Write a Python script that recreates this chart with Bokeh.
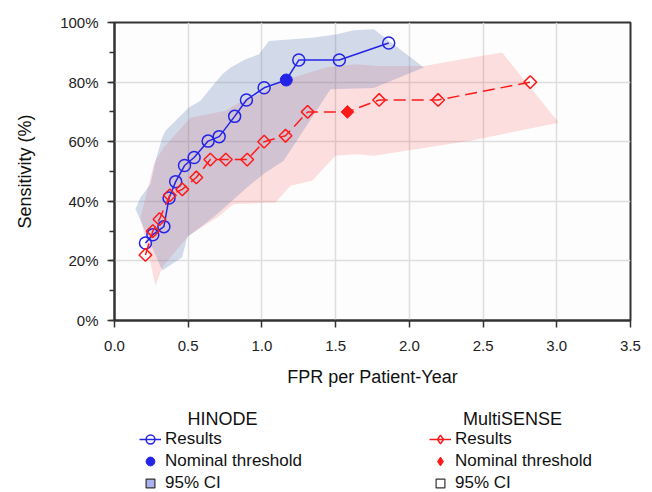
import numpy as np
from bokeh.plotting import figure
from bokeh.layouts import column
from bokeh.models import (Legend, LegendItem, Label, FixedTicker, PrintfTickFormatter,
                          Range1d, ColumnDataSource)
from bokeh.embed import file_html
from bokeh.resources import INLINE

# ---------------- data ----------------
hinode_fpr = [0.21, 0.26, 0.335, 0.37, 0.415, 0.475, 0.54, 0.635, 0.71, 0.815, 0.895, 1.015, 1.165, 1.25, 1.525, 1.86]
hinode_sens = [26.0, 28.8, 31.5, 41.1, 46.6, 52.0, 54.7, 60.2, 61.7, 68.5, 74.0, 78.1, 80.7, 87.4, 87.4, 93.1]
hinode_nominal_index = 12

multisense_fpr = [0.21, 0.26, 0.305, 0.375, 0.46, 0.555, 0.65, 0.755, 0.90, 1.015, 1.16, 1.31, 1.58, 1.795, 2.195, 2.82]
multisense_sens = [22, 30, 34, 42, 44, 48, 54, 54, 54, 60, 62, 70, 70, 74, 74, 80]
multisense_nominal_index = 12

# 95% CI regions (outline of the band, x = FPR, y = sensitivity %)
hinode_ci_x = [0.142, 0.176, 0.244, 0.278, 0.324, 0.346, 0.391, 0.448, 0.504, 0.583, 0.674, 0.731, 0.787,
               0.889, 0.979, 1.047, 1.206, 1.341, 1.499, 1.624, 1.759, 2.098,
               1.759, 1.465, 1.147, 1.011, 0.900, 0.697, 0.583, 0.493, 0.459, 0.324]
hinode_ci_y = [37.4, 41.3, 45.8, 53.6, 61.4, 63.7, 65.9, 68.7, 71.5, 73.7, 79.3, 82.6, 84.9,
               87.7, 89.3, 93.8, 94.4, 94.9, 96.0, 97.4, 97.7, 84.9,
               78.0, 77.6, 53.6, 49.2, 44.7, 35.7, 31.3, 27.9, 21.2, 16.8]

multisense_ci_x = [0.278, 0.176, 0.267, 0.278, 0.334, 0.516, 0.753, 0.866, 0.979, 1.138, 1.431, 1.635,
                   1.805, 2.098, 2.483, 2.630, 3.014,
                   2.415, 1.759, 1.635, 1.499, 1.341, 1.194, 1.092, 0.809, 0.697, 0.504, 0.324]
multisense_ci_y = [11.7, 34.6, 52.5, 53.6, 58.1, 68.1, 70.4, 73.7, 75.9, 80.4, 84.9, 86.0,
                   85.4, 85.4, 88.8, 89.9, 66.4,
                   60.3, 55.3, 55.8, 55.3, 46.9, 45.2, 39.6, 39.1, 34.6, 28.5, 17.9]

x_ticks = [0.0, 0.5, 1.0, 1.5, 2.0, 2.5, 3.0, 3.5]
y_ticks = [0, 20, 40, 60, 80, 100]

series_names = ["HINODE", "MultiSENSE"]
legend_labels = ["Results", "Nominal threshold", "95% CI"]

BLUE = "#2424e8"
RED = "#ff1a1a"
FONT = "Liberation Sans"

p = figure(width=652, height=400, output_backend="svg", toolbar_location=None,
           x_range=Range1d(0, 3.5), y_range=Range1d(0, 100),
           min_border_left=114, min_border_right=22, min_border_top=22, min_border_bottom=80)

p.background_fill_color = "#fdfdfd"
p.outline_line_color = "#333333"
p.outline_line_width = 2

# CI bands
p.patch(multisense_ci_x, multisense_ci_y, fill_color="#ff0000", fill_alpha=0.12, line_color=None)
p.patch(hinode_ci_x, hinode_ci_y, fill_color="#5373b3", fill_alpha=0.25, line_color=None)

# HINODE
h_open = ColumnDataSource(dict(
    x=[v for i, v in enumerate(hinode_fpr) if i != hinode_nominal_index],
    y=[v for i, v in enumerate(hinode_sens) if i != hinode_nominal_index]))
p.line(hinode_fpr, hinode_sens, line_color=BLUE, line_width=1.5)
p.scatter("x", "y", source=h_open, marker="circle", size=12, fill_color=None,
          line_color=BLUE, line_width=1.5)
p.scatter([hinode_fpr[hinode_nominal_index]], [hinode_sens[hinode_nominal_index]],
          marker="circle", size=12, fill_color=BLUE, line_color=BLUE)

# MultiSENSE
m_open = ColumnDataSource(dict(
    x=[v for i, v in enumerate(multisense_fpr) if i != multisense_nominal_index],
    y=[v for i, v in enumerate(multisense_sens) if i != multisense_nominal_index]))
p.line(multisense_fpr, multisense_sens, line_color=RED, line_width=1.5, line_dash="12 6")
p.scatter("x", "y", source=m_open, marker="square", angle=np.pi / 4, size=9,
          fill_color=None, line_color=RED, line_width=1.5)
p.scatter([multisense_fpr[multisense_nominal_index]], [multisense_sens[multisense_nominal_index]],
          marker="square", angle=np.pi / 4, size=9, fill_color=RED, line_color=RED)

# axes
p.xaxis.ticker = FixedTicker(ticks=x_ticks)
p.yaxis.ticker = FixedTicker(ticks=y_ticks, minor_ticks=list(range(0, 101, 10)))
p.xaxis.formatter = PrintfTickFormatter(format="%.1f")
p.yaxis.formatter = PrintfTickFormatter(format="%d%%")
p.xaxis.minor_tick_line_color = None
for ax in (p.xaxis[0], p.yaxis[0]):
    ax.axis_line_color = "#333333"
    ax.axis_line_width = 2
    ax.major_tick_line_color = "#333333"
    ax.major_tick_line_width = 1.5
    ax.major_tick_out = 7
    ax.major_tick_in = 0
    ax.major_label_text_font = FONT
    ax.major_label_text_font_size = "15px"
    ax.major_label_text_color = "#222222"
    ax.axis_label_text_font = FONT
    ax.axis_label_text_font_size = "18px"
    ax.axis_label_text_font_style = "normal"
    ax.axis_label_text_color = "#111111"
p.yaxis.minor_tick_line_color = "#333333"
p.yaxis.minor_tick_line_width = 1.5
p.yaxis.minor_tick_out = 5
p.yaxis.minor_tick_in = 0
p.xaxis.axis_label = "FPR per Patient-Year"
p.yaxis.axis_label = "Sensitivity (%)"
p.xaxis.major_label_standoff = 13
p.yaxis.major_label_standoff = 9
p.xaxis.axis_label_standoff = 13
p.yaxis.axis_label_standoff = 22

p.xgrid.grid_line_color = "#dedede"
p.ygrid.grid_line_color = "#dedede"
p.xgrid.grid_line_width = 1.5
p.ygrid.grid_line_width = 1.5

# ---------------- legend panel ----------------
# (the column layout aligns this panel's frame with the main frame: x 114..630)
lp = figure(width=652, height=92, output_backend="svg", toolbar_location=None,
            x_range=Range1d(0, 1), y_range=Range1d(0, 1), min_border=0,
            x_axis_location=None, y_axis_location=None)
lp.grid.visible = False
lp.outline_line_color = None
nan = [np.nan]

def legend_block(name, color, marker, dash, ci_fill, x_left, x_title):
    r_line = lp.line(nan, nan, line_color=color, line_width=1.5, line_dash=dash)
    r_open = lp.scatter(nan, nan, marker=marker, size=10, fill_color=None,
                        line_color=color, line_width=1.5)
    r_nom = lp.scatter(nan, nan, marker=marker, size=10, fill_color=color,
                       line_color=color)
    r_ci = lp.scatter(nan, nan, marker="square", size=12, fill_color=ci_fill,
                      line_color="#333333", line_width=1.2)
    lg = Legend(items=[LegendItem(label=legend_labels[0], renderers=[r_line, r_open]),
                       LegendItem(label=legend_labels[1], renderers=[r_nom]),
                       LegendItem(label=legend_labels[2], renderers=[r_ci])],
                location=(x_left, -2), orientation="vertical",
                background_fill_alpha=0, border_line_color=None, padding=0, margin=0,
                spacing=0, glyph_height=22, glyph_width=22, label_height=22, label_standoff=4,
                label_text_font=FONT, label_text_font_size="17px", label_text_color="#111111")
    lp.add_layout(lg, "center")
    lp.add_layout(Label(x=x_title, y=74, x_units="screen", y_units="screen", text=name,
                        text_align="center", text_baseline="middle", text_font=FONT,
                        text_font_size="18px", text_color="#111111"))

legend_block(series_names[0], BLUE, "circle", "solid", "#aab0f0", 25, 108)
legend_block(series_names[1], RED, "diamond", "solid", "white", 315, 398)

layout = column(p, lp, spacing=0)
open("out.html", "w").write(file_html(layout, INLINE))
